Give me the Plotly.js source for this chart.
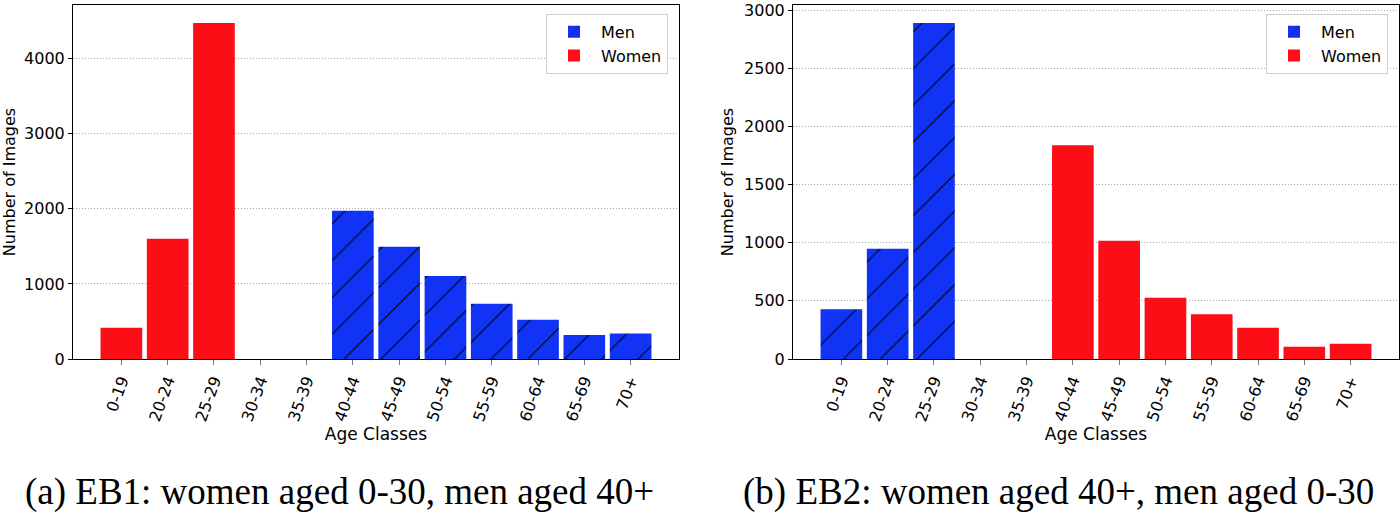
<!DOCTYPE html>
<html>
<head>
<meta charset="utf-8">
<script src="https://cdn.plot.ly/plotly-3.0.1.min.js"></script>
<style>
  body { margin: 0; background: #fff; }
  #myPlot { width: 1400px; height: 513px; }
</style>
</head>
<body>
<div id="myPlot"></div>
<script>
// age classes on the x axis
const ageClasses = ["0-19", "20-24", "25-29", "30-34", "35-39", "40-44",
                    "45-49", "50-54", "55-59", "60-64", "65-69", "70+"];

// EB1: women aged 0-30, men aged 40+
const eb1Men   = [0, 0, 0, 0, 0, 1973, 1494, 1104, 736, 523, 319, 341];
const eb1Women = [417, 1601, 4474, 0, 0, 0, 0, 0, 0, 0, 0, 0];

// EB2: women aged 40+, men aged 0-30
const eb2Men   = [427, 948, 2891, 0, 0, 0, 0, 0, 0, 0, 0, 0];
const eb2Women = [0, 0, 0, 0, 0, 1840, 1017, 527, 384, 269, 106, 132];

const captions = ["(a) EB1: women aged 0-30, men aged 40+",
                  "(b) EB2: women aged 40+, men aged 0-30"];

const blue = "#1133f5";
const red = "#fd0d16";
const font = "DejaVu Sans, sans-serif";

function menBar(y, xa, ya, leg){
    return {
        type: "bar", x: ageClasses, y: y, name: "Men", width: 0.9,
        xaxis: xa, yaxis: ya, legend: leg,
        marker: {color: blue, pattern: {shape: "/", fgcolor: "#000", bgcolor: blue, size: 26, solidity: 0.04}}
    };
}
function womenBar(y, xa, ya, leg){
    return {
        type: "bar", x: ageClasses, y: y, name: "Women", width: 0.9,
        xaxis: xa, yaxis: ya, legend: leg,
        marker: {color: red}
    };
}

const data = [
    menBar(eb1Men, "x", "y", "legend"),
    womenBar(eb1Women, "x", "y", "legend"),
    menBar(eb2Men, "x2", "y2", "legend2"),
    womenBar(eb2Women, "x2", "y2", "legend2")
];

function xAxis(dom, anchor){
    return {
        domain: dom, anchor: anchor, type: "category",
        categoryorder: "array", categoryarray: ageClasses,
        range: [-1.045, 12.045],
        tickangle: -70, tickfont: {family: font, size: 16, color: "#000"},
        ticks: "outside", ticklen: 5, tickcolor: "#777",
        showline: true, linecolor: "#000", linewidth: 1, mirror: true,
        showgrid: false, zeroline: false,
        title: {text: "Age Classes", font: {family: font, size: 17, color: "#000"}, standoff: 4}
    };
}
function yAxis(dom, anchor, max, dt){
    return {
        domain: dom, anchor: anchor, range: [0, max], dtick: dt,
        tickfont: {family: font, size: 16, color: "#000"},
        ticks: "outside", ticklen: 4, tickcolor: "#000",
        showline: true, linecolor: "#000", linewidth: 1, mirror: true,
        showgrid: true, gridcolor: "#a0a8a8", griddash: "1px,2px", gridwidth: 1,
        zeroline: false,
        title: {text: "Number of Images", font: {family: font, size: 16, color: "#000"}, standoff: 6}
    };
}

const legendStyle = {
    font: {family: font, size: 16, color: "#000"},
    bgcolor: "#fff", bordercolor: "#d0d0d0", borderwidth: 1,
    xanchor: "right", yanchor: "top", traceorder: "normal", itemwidth: 44
};

const captionFont = {family: "Liberation Serif, serif", size: 37, color: "#000"};

const layout = {
    width: 1400, height: 513,
    margin: {l: 0, r: 0, t: 5, b: 154},
    paper_bgcolor: "#fff", plot_bgcolor: "#fff",
    barmode: "overlay",
    showlegend: true,
    xaxis: xAxis([73/1400, 679/1400], "y"),
    yaxis: yAxis([0, 1], "x", 4714, 1000),
    xaxis2: xAxis([793/1400, 1399/1400], "y2"),
    yaxis2: yAxis([0, 1], "x2", 3046, 500),
    legend: Object.assign({x: 668/1400, y: 0.975}, legendStyle),
    legend2: Object.assign({x: 1388/1400, y: 0.975}, legendStyle),
    annotations: [
        {text: captions[0], x: 339/1400, y: -0.376, xref: "paper", yref: "paper",
         xanchor: "center", yanchor: "middle", showarrow: false, font: captionFont},
        {text: captions[1], x: 1058/1400, y: -0.376, xref: "paper", yref: "paper",
         xanchor: "center", yanchor: "middle", showarrow: false, font: captionFont}
    ]
};

Plotly.newPlot("myPlot", data, layout, {displayModeBar: false});
</script>
</body>
</html>
